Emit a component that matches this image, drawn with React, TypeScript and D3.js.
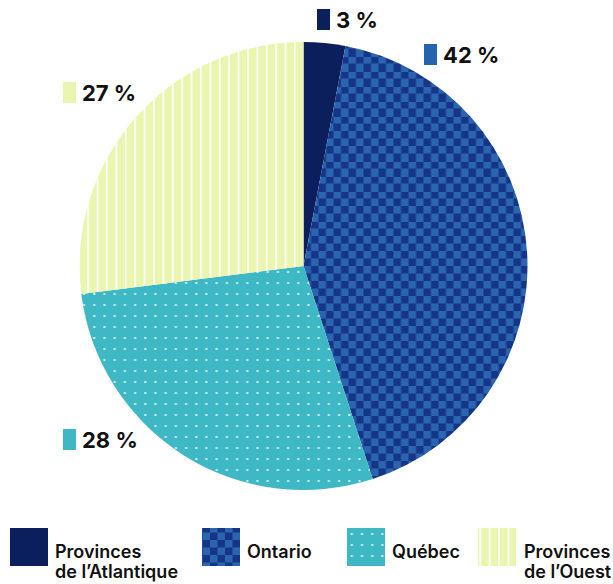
import React from "react";
import * as d3 from "d3";

const categories = ["Provinces de l’Atlantique", "Ontario", "Québec", "Provinces de l’Ouest"];
const values = [3, 42, 28, 27];
const labels = ["3 %", "42 %", "28 %", "27 %"];
const legendLines = [["Provinces", "de l’Atlantique"], ["Ontario"], ["Québec"], ["Provinces", "de l’Ouest"]];

const W = 613, H = 584;
const cx = 303.5, cy = 266, R = 224;
const fills = ["#0b1f5c", "url(#checker)", "url(#dots)", "url(#vlines)"];
const swatch = ["#0b1f5c", "#2463ae", "#3fb8c6", "#eaf5b0"];
const labelPos = [
  { x: 317, y: 9 },
  { x: 424, y: 44 },
  { x: 63, y: 429 },
  { x: 63, y: 82 },
];
const legendX = [10, 202, 347, 478];
const legendTextX = [55, 247, 392, 524];

export default function App() {
  const pie = d3.pie<number>().sort(null).value((d) => d)(values);
  const arc = d3.arc<d3.PieArcDatum<number>>().innerRadius(0).outerRadius(R);
  const font = "Inter, Roboto, 'DejaVu Sans', sans-serif";
  return (
    <svg width={W} height={H} style={{ position: "absolute", left: 0, top: 0 }}>
      <defs>
        <pattern id="checker" width={15} height={15} patternUnits="userSpaceOnUse">
          <rect width={15} height={15} fill="#173587" />
          <rect width={7.5} height={7.5} fill="#2a66b0" />
          <rect x={7.5} y={7.5} width={7.5} height={7.5} fill="#2a66b0" />
        </pattern>
        <pattern id="dots" width={10.2} height={11} patternUnits="userSpaceOnUse">
          <rect width={10.2} height={11} fill="#3fb8c6" />
          <rect x={4} y={5} width={2} height={2} fill="#d2eff2" />
        </pattern>
        <pattern id="vlines" width={9.4} height={10} patternUnits="userSpaceOnUse">
          <rect width={9.4} height={10} fill="#eaf5b0" />
          <rect x={0} width={1.6} height={10} fill="#ffffff" />
        </pattern>
      </defs>
      <g transform={`translate(${cx},${cy})`}>
        {pie.map((p, i) => (
          <path key={categories[i]} d={arc(p) || ""} fill={fills[i]} />
        ))}
      </g>
      {labels.map((l, i) => (
        <g key={l}>
          <rect x={labelPos[i].x} y={labelPos[i].y} width={13} height={21} fill={swatch[i]} />
          <text
            x={labelPos[i].x + 19}
            y={labelPos[i].y + 19}
            fontFamily={font}
            fontWeight={700}
            fontSize={22}
            fill="#111"
          >
            {l}
          </text>
        </g>
      ))}
      {legendLines.map((lines, i) => (
        <g key={categories[i]}>
          <rect x={legendX[i]} y={528} width={38} height={38} fill={fills[i]} />
          {lines.map((t, j) => (
            <text
              key={t}
              x={legendTextX[i]}
              y={558 + j * 20}
              fontFamily={font}
              fontWeight={600}
              fontSize={18}
              fill="#111"
            >
              {t}
            </text>
          ))}
        </g>
      ))}
    </svg>
  );
}
